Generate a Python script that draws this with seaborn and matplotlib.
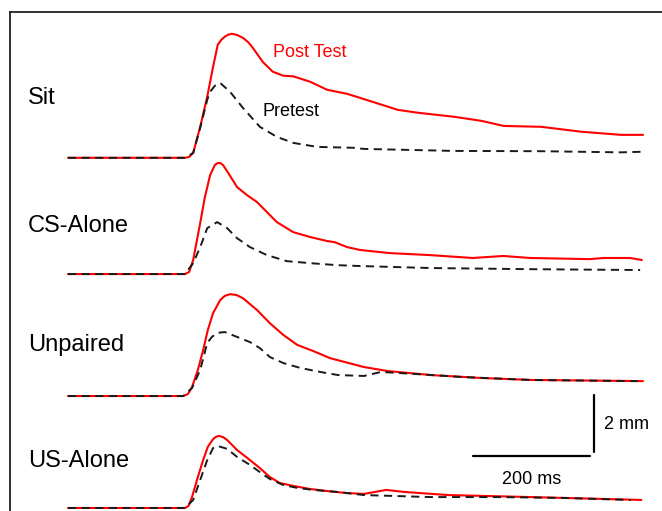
import matplotlib
matplotlib.use("Agg")
import matplotlib.pyplot as plt
import seaborn as sns
import pandas as pd

# ---------------- data (time in ms, amplitude in mm) ----------------
conditions = ["Sit", "CS-Alone", "Unpaired", "US-Alone"]
row_offsets_mm = [12.2, 8.15, 3.9, 0.0]

sit_post_t = [0, 200, 207, 214, 226, 238, 248, 256, 262, 268, 274, 280, 289, 299, 308, 316, 333, 350, 368, 385,
              414, 443, 477, 499, 564, 598, 660, 706, 745, 809, 877, 945, 983]
sit_post_mm = [0, 0, 0.03, 0.17, 1.08, 2.13, 3.17, 3.94, 4.11, 4.22, 4.29, 4.32, 4.28, 4.18, 4.03, 3.83, 3.34, 3.00,
               2.86, 2.84, 2.65, 2.37, 2.23, 2.09, 1.67, 1.57, 1.43, 1.29, 1.11, 1.08, 0.91, 0.80, 0.80]
sit_pre_t = [0, 200, 214, 226, 238, 243, 251, 260, 277, 299, 328, 357, 385, 426, 487, 506, 660, 809, 945, 980]
sit_pre_mm = [0, 0, 0.17, 1.05, 2.02, 2.30, 2.51, 2.61, 2.30, 1.74, 1.08, 0.73, 0.52, 0.38, 0.35, 0.31, 0.24, 0.23,
              0.19, 0.21]

cs_post_t = [0, 200, 207, 214, 226, 234, 243, 251, 255, 260, 265, 274, 289, 306, 323, 340, 357, 385, 414, 443,
             456, 477, 499, 550, 619, 692, 744, 790, 892, 915, 961, 981]
cs_post_mm = [0, 0, 0.07, 0.49, 1.78, 2.68, 3.45, 3.80, 3.86, 3.87, 3.80, 3.52, 3.03, 2.75, 2.51, 2.16, 1.81, 1.46,
              1.29, 1.15, 1.11, 0.94, 0.84, 0.73, 0.66, 0.56, 0.63, 0.56, 0.52, 0.56, 0.56, 0.49]
cs_pre_t = [0, 200, 214, 226, 238, 255, 272, 289, 311, 340, 374, 414, 460, 499, 619, 790, 978]
cs_pre_mm = [0, 0, 0.38, 0.94, 1.60, 1.81, 1.60, 1.25, 0.94, 0.66, 0.45, 0.38, 0.31, 0.28, 0.21, 0.17, 0.14]

unp_post_t = [0, 197, 205, 212, 222, 231, 239, 248, 260, 268, 277, 288, 299, 323, 345, 368, 392, 419, 448, 506,
              547, 621, 706, 792, 983]
unp_post_mm = [0, 0, 0.07, 0.31, 0.91, 1.60, 2.30, 2.89, 3.34, 3.49, 3.55, 3.52, 3.41, 3.00, 2.54, 2.13, 1.78, 1.57,
               1.32, 1.01, 0.87, 0.73, 0.63, 0.56, 0.52]
unp_pre_t = [0, 197, 212, 226, 238, 246, 255, 268, 289, 311, 328, 345, 368, 397, 431, 462, 506, 535, 592, 677,
             792, 974]
unp_pre_mm = [0, 0, 0.28, 0.91, 1.85, 2.06, 2.20, 2.23, 2.06, 1.88, 1.67, 1.36, 1.15, 0.98, 0.84, 0.73, 0.70, 0.84,
              0.77, 0.66, 0.56, 0.52]

us_post_t = [0, 200, 206, 212, 222, 231, 239, 248, 253, 258, 265, 272, 289, 311, 328, 345, 362, 385, 414, 443,
             477, 506, 525, 544, 574, 650, 792, 980]
us_post_mm = [0, 0, 0.07, 0.38, 1.08, 1.67, 2.13, 2.40, 2.48, 2.51, 2.47, 2.37, 2.02, 1.67, 1.39, 1.08, 0.87, 0.77,
              0.66, 0.59, 0.52, 0.49, 0.56, 0.63, 0.56, 0.45, 0.38, 0.28]
us_pre_t = [0, 200, 214, 226, 238, 248, 256, 272, 289, 311, 328, 345, 368, 392, 419, 460, 506, 621, 735, 848, 962]
us_pre_mm = [0, 0, 0.28, 0.98, 1.67, 2.09, 2.16, 2.06, 1.78, 1.50, 1.25, 1.01, 0.80, 0.70, 0.63, 0.56, 0.45, 0.38,
             0.38, 0.35, 0.28]

post_t = [sit_post_t, cs_post_t, unp_post_t, us_post_t]
post_mm = [sit_post_mm, cs_post_mm, unp_post_mm, us_post_mm]
pre_t = [sit_pre_t, cs_pre_t, unp_pre_t, us_pre_t]
pre_mm = [sit_pre_mm, cs_pre_mm, unp_pre_mm, us_pre_mm]

scale_ms = 200
scale_mm = 2

# ---------------- build long table ----------------
rows = []
for cond, off, pt, pm, rt, rm in zip(conditions, row_offsets_mm, post_t, post_mm, pre_t, pre_mm):
    for t, v in zip(pt, pm):
        rows.append({"time": t, "y": v + off, "condition": cond, "session": "Post Test"})
    for t, v in zip(rt, rm):
        rows.append({"time": t, "y": v + off, "condition": cond, "session": "Pretest"})
df = pd.DataFrame(rows)

# ---------------- style ----------------
sns.set_theme(style="white")
plt.rcParams["font.family"] = ["Liberation Sans", "DejaVu Sans"]

fig = plt.figure(figsize=(6.62, 5.11), dpi=100)
ax = fig.add_axes([9.5 / 662, 0.0, 1 - 9.5 / 662, (511 - 12) / 511])

red = "#ff0000"
dark = "#1a1a1a"

for cond in conditions:
    sub = df[(df.condition == cond) & (df.session == "Post Test")]
    sns.lineplot(data=sub, x="time", y="y", sort=False, estimator=None, color=red,
                 linewidth=1.5, ax=ax, legend=False, zorder=2,
                 solid_joinstyle="round", solid_capstyle="round")
for cond in conditions:
    sub = df[(df.condition == cond) & (df.session == "Pretest")]
    sns.lineplot(data=sub, x="time", y="y", sort=False, estimator=None, color=dark,
                 linewidth=1.4, linestyle=(0, (4.2, 2.8)), ax=ax, legend=False, zorder=3,
                 dash_joinstyle="round")

# scale bars
bar_t0 = 692
bar_y0 = 1.81
vbar_t = 899
vbar_y0 = 1.95
sns.lineplot(x=[bar_t0, bar_t0 + scale_ms], y=[bar_y0, bar_y0], color="black", linewidth=1.6,
             ax=ax, estimator=None, sort=False)
sns.lineplot(x=[vbar_t, vbar_t], y=[vbar_y0, vbar_y0 + scale_mm], color="black", linewidth=1.6,
             ax=ax, estimator=None, sort=False)
ax.text(bar_t0 + scale_ms / 2, 0.83, f"{scale_ms} ms", ha="center", va="baseline", fontsize=13, color="black")
ax.text(916, 2.74, f"{scale_mm} mm", ha="left", va="baseline", fontsize=13, color="black")

# row labels
label_y_mm = [14.08, 9.62, 5.47, 1.43]
for cond, ly in zip(conditions, label_y_mm):
    ax.text(-68, ly, cond, ha="left", va="baseline", fontsize=17, color="black")

# trace labels
ax.text(350, 15.70, "Post Test", ha="left", va="baseline", fontsize=13, color=red)
ax.text(333, 13.67, "Pretest", ha="left", va="baseline", fontsize=13, color="black")

ax.set_xlim(-100, 1015.4)
ax.set_ylim(-0.105, 17.28)
ax.set_xticks([])
ax.set_yticks([])
ax.set_xlabel("")
ax.set_ylabel("")
for side in ["right", "bottom"]:
    ax.spines[side].set_visible(False)
for side in ["top", "left"]:
    ax.spines[side].set_visible(True)
    ax.spines[side].set_color("#222222")
    ax.spines[side].set_linewidth(1.3)
ax.set_facecolor("white")
fig.patch.set_facecolor("white")

fig.savefig("out.png", dpi=100, facecolor="white")
